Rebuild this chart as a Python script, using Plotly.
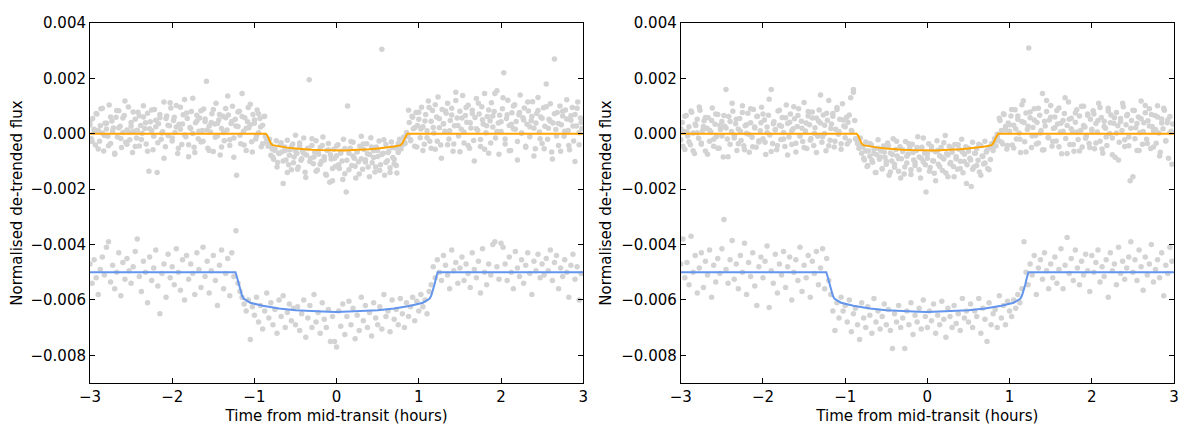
import plotly.graph_objects as go
from plotly.subplots import make_subplots

# time stamps of the light curves, minutes from mid-transit
t_orange = [
    -180, -179, -178, -177, -176, -175, -174, -173, -172, -171, -170, -169, -168, -167, -166, -165, -164, -163, -162, -161,
    -160, -159, -158, -157, -156, -155, -154, -153, -152, -151, -150, -149, -148, -147, -146, -145, -144, -143, -142, -141,
    -140, -139, -138, -137, -136, -135, -134, -133, -132, -131, -130, -129, -128, -127, -126, -125, -124, -123, -122, -121,
    -120, -119, -118, -117, -116, -115, -114, -113, -112, -111, -110, -109, -108, -107, -106, -105, -104, -103, -102, -101,
    -100, -99, -98, -97, -96, -95, -94, -93, -92, -91, -90, -89, -88, -87, -86, -85, -84, -83, -82, -81,
    -80, -79, -78, -77, -76, -75, -74, -73, -72, -71, -70, -69, -68, -67, -66, -65, -64, -63, -62, -61,
    -60, -59, -58, -57, -56, -55, -54, -53, -52, -51, -50, -49, -48, -47, -46, -45, -44, -43, -42, -41,
    -40, -39, -38, -37, -36, -35, -34, -33, -32, -31, -30, -29, -28, -27, -26, -25, -24, -23, -22, -21,
    -20, -19, -18, -17, -16, -15, -14, -13, -12, -11, -10, -9, -8, -7, -6, -5, -4, -3, -2, -1,
    0, 1, 2, 3, 4, 5, 6, 7, 8, 9, 10, 11, 12, 13, 14, 15, 16, 17, 18, 19,
    20, 21, 22, 23, 24, 25, 26, 27, 28, 29, 30, 31, 32, 33, 34, 35, 36, 37, 38, 39,
    40, 41, 42, 43, 44, 45, 46, 47, 48, 49, 50, 51, 52, 53, 54, 55, 56, 57, 58, 59,
    60, 61, 62, 63, 64, 65, 66, 67, 68, 69, 70, 71, 72, 73, 74, 75, 76, 77, 78, 79,
    80, 81, 82, 83, 84, 85, 86, 87, 88, 89, 90, 91, 92, 93, 94, 95, 96, 97, 98, 99,
    100, 101, 102, 103, 104, 105, 106, 107, 108, 109, 110, 111, 112, 113, 114, 115, 116, 117, 118, 119,
    120, 121, 122, 123, 124, 125, 126, 127, 128, 129, 130, 131, 132, 133, 134, 135, 136, 137, 138, 139,
    140, 141, 142, 143, 144, 145, 146, 147, 148, 149, 150, 151, 152, 153, 154, 155, 156, 157, 158, 159,
    160, 161, 162, 163, 164, 165, 166, 167, 168, 169, 170, 171, 172, 173, 174, 175, 176, 177, 178, 179,
]
t_slow = [
    -180, -178.5, -177, -175.5, -174, -172.5, -171, -169.5, -168, -166.5, -165, -163.5, -162, -160.5, -159, -157.5, -156, -154.5, -153, -151.5,
    -150, -148.5, -147, -145.5, -144, -142.5, -141, -139.5, -138, -136.5, -135, -133.5, -132, -130.5, -129, -127.5, -126, -124.5, -123, -121.5,
    -120, -118.5, -117, -115.5, -114, -112.5, -111, -109.5, -108, -106.5, -105, -103.5, -102, -100.5, -99, -97.5, -96, -94.5, -93, -91.5,
    -90, -88.5, -87, -85.5, -84, -82.5, -81, -79.5, -78, -76.5, -75, -73.5, -72, -70.5, -69, -67.5, -66, -64.5, -63, -61.5,
    -60, -58.5, -57, -55.5, -54, -52.5, -51, -49.5, -48, -46.5, -45, -43.5, -42, -40.5, -39, -37.5, -36, -34.5, -33, -31.5,
    -30, -28.5, -27, -25.5, -24, -22.5, -21, -19.5, -18, -16.5, -15, -13.5, -12, -10.5, -9, -7.5, -6, -4.5, -3, -1.5,
    0, 1.5, 3, 4.5, 6, 7.5, 9, 10.5, 12, 13.5, 15, 16.5, 18, 19.5, 21, 22.5, 24, 25.5, 27, 28.5,
    30, 31.5, 33, 34.5, 36, 37.5, 39, 40.5, 42, 43.5, 45, 46.5, 48, 49.5, 51, 52.5, 54, 55.5, 57, 58.5,
    60, 61.5, 63, 64.5, 66, 67.5, 69, 70.5, 72, 73.5, 75, 76.5, 78, 79.5, 81, 82.5, 84, 85.5, 87, 88.5,
    90, 91.5, 93, 94.5, 96, 97.5, 99, 100.5, 102, 103.5, 105, 106.5, 108, 109.5, 111, 112.5, 114, 115.5, 117, 118.5,
    120, 121.5, 123, 124.5, 126, 127.5, 129, 130.5, 132, 133.5, 135, 136.5, 138, 139.5, 141, 142.5, 144, 145.5, 147, 148.5,
    150, 151.5, 153, 154.5, 156, 157.5, 159, 160.5, 162, 163.5, 165, 166.5, 168, 169.5, 171, 172.5, 174, 175.5, 177, 178.5,
]

# de-trended flux, units of 1e-5 (blue curve already offset by -0.005)
# orange: points on t_orange plus a second set on t_slow
flux_orange_left = [
    32, -18, 55, 8, -41, 71, 12, -27, 90, 3, -62, 38, 17, -9, 104, -35, 46, 21, -74, 60,
    -12, 83, 27, -50, 5, 66, -31, 14, 97, -22, 41, -68, 9, 52, -15, 78, -44, 30, 2, 61,
    19, -37, 74, -135, 43, 11, -58, 88, 25, -140, 36, 58, -20, 7, 115, -47, 64, -6, 29, 93,
    -26, 48, 5, 102, -71, 34, 16, -39, 69, 124, -11, 55, -83, 23, 80, 1, -49, 40, 67, -18,
    57, -30, 12, 89, 44, 190, -52, 28, 6, 72, -64, 35, 110, -8, 50, -77, 19, 63, -25, 91,
    14, 68, -42, 37, 99, -15, 52, -150, 26, 81, -36, 145, 9, 58, -60, 43, 22, 107, -29, 70,
    38, -19, 86, 4, 55, -47, 31, 62, -10, -30, -45, -20, -78, -55, -92, -60, -25, -104, -71, -40,
    -66, -180, -48, -95, -23, -112, -58, -130, -37, -84, -5, -71, -120, -44, -96, -62, -15, -139, -77, -53,
    195, -88, -42, -108, -67, -25, -131, -74, -50, -99, -12, -83, -146, -60, -35, -175, -91, -170, -56, -118,
    -79, -40, -125, -63, -98, -20, -144, -210, 100, -70, -52, -115, -31, -88, -160, -66, -101, -45, -9, -128,
    -57, -94, -36, -120, -75, -14, -105, -61, -138, -48, -82, -26, -112, 305, -70, -150, -39, -97, -64, -123,
    -30, -86, -108, -51, -142, -68, -20, -55, -40, -12, -35, 5, -8, 41, -22, 63, 18, -45, 77, 30,
    52, -14, 96, 25, -38, 70, 11, 118, -27, 45, 84, 3, -56, 61, 133, 22, -41, 88, 36, 9,
    74, 110, -19, 48, 92, -63, 29, 150, 57, -8, 81, 16, 138, -33, 66, 42, 103, -52, 21, 85,
    -24, 59, 127, 13, 71, -46, 98, 35, 145, 4, 62, -70, 47, 112, 24, 80, -15, 155, 39, 67,
    8, 90, 220, -37, 55, 121, 30, -60, 76, 18, 105, 44, -28, 69, 140, 2, 58, 93, -49, 34,
    82, -11, 47, 116, 20, -54, 73, 131, 6, 61, -35, 94, 27, 180, -20, 52, 108, -66, 39, 270,
    15, 77, -42, 100, 33, 64, -9, 86, 123, 12, -58, 49, 95, -26, 70, 28, 115, -40, 57, 19,
]
flux_orange_left_b = [
    45, -28, 16, 73, -55, 29, 92, -6, 38, -43, 61, 10, -70, 84, 22, -17, 57, 118, -38, 6,
    27, 79, -46, 13, 65, -21, 101, 40, -63, 18, 86, -9, 49, -32, 70, 3, -88, 55, 31, 112,
    -15, 60, 24, -52, 96, 35, -4, 75, -40, 19, 128, -68, 46, 9, 83, -27, 53, 14, -60, 41,
    88, -13, 37, 70, -48, 5, 58, 136, -22, 44, -85, 28, 79, -5, 62, -41, 20, 95, 33, -66,
    50, -8, 72, 24, -36, 63, -20, -35, -40, -85, -55, -120, -70, -32, -98, -60, -140, -78, -47, -105,
    -62, -128, -33, -90, -70, -158, -52, -100, -18, -84, -135, -66, -110, -42, -95, -150, -58, -76, -125, -88,
    -44, -112, -70, -165, -53, -96, -130, -28, -80, -117, -64, -145, -90, -37, -102, -72, -155, -48, -86, -120,
    -60, -133, -75, -22, -104, -68, -140, -50, -92, -115, -35, -45, -40, -30, -10, 85, -25, 60, 22, -48,
    78, 17, -60, 46, -14, 95, -52, 23, 105, -27, 54, -88, 36, 82, -40, 11, 68, -37, 120, 30,
    -65, 57, 6, 95, -42, 40, 73, -98, 18, 110, -21, 51, -56, 29, 86, -33, 64, 145, 8, -74,
    43, 130, -19, 69, -61, 34, 100, 16, -95, 77, 3, 50, -45, 115, 25, 62, -80, 39, 84, -18,
    56, -54, 98, 20, 45, -91, 72, -8, 37, -63, 81, 9, 53, -42, 65, 28, -100, 92, 4, 41,
]
flux_orange_right = [
    -22, 41, 9, -57, 66, -8, 25, -40, 78, 3, -71, 30, 52, -16, 85, -33, 12, 47, -62, 20,
    58, -27, 6, 93, -45, 34, -11, 70, -52, 15, 44, -84, 27, 160, -19, 62, -38, 8, 81, -5,
    36, -60, 17, 55, -24, 101, -43, 29, 2, 74, -67, 40, -13, 88, 21, -49, 63, -30, 11, 96,
    -18, 50, -75, 24, 67, -4, 160, -35, 43, 14, -58, 82, 31, -21, 59, 5, -46, 104, 37, -12,
    71, -39, 18, 54, -66, 26, 90, -7, 45, -28, 113, 10, -53, 64, 33, -17, 79, -42, 22, 57,
    -9, 86, 39, -31, 68, 1, -61, 49, 120, -23, 35, 73, -48, 16, 95, -2, 52, -36, 108, 28,
    -14, 60, 42, -26, 130, 7, 160, 48, -20, -35, -52, -15, -70, -48, -95, -30, -118, -62, -81, -40,
    -103, -55, -140, -76, -22, -92, -61, -127, -44, -85, -110, -33, -150, -69, -98, -18, -121, -57, -80, -135,
    -47, -90, -64, -145, -28, -106, -73, -52, -130, -38, -95, -115, -60, -11, -84, -160, -49, -101, -70, -210,
    -88, -36, -122, -58, -97, -143, -65, -25, -110, -79, -50, -133, -91, -6, -72, -155, -45, -104, -67, -118,
    -39, -83, -128, -56, -99, -20, -141, -74, -47, -112, -63, -88, -190, -31, -120, -70, -54, -96, -138, -42,
    -80, -109, -27, -66, -125, -50, -93, -35, -60, -18, -44, -2, -25, 48, 12, -37, 70, 26, -55, 39,
    9, 64, -41, 31, 87, -19, 52, 3, -68, 44, 119, -29, 75, 15, 310, 58, -50, 23, 90, -6,
    41, -33, 67, 12, 145, -58, 28, 80, -14, 50, 102, -45, 19, 61, -26, 35, 93, 6, -72, 48,
    73, -17, 30, 115, -39, 56, 8, -63, 42, 87, -21, 64, 13, -48, 99, 24, -8, 71, -35, 52,
    16, 83, -54, 37, 6, 110, -27, 59, -70, 45, 20, -42, 92, 1, 68, -15, 38, -85, 77, 29,
    -31, 55, 12, 98, -46, 33, 70, -12, -170, 48, -155, 84, 22, -60, 61, 5, 118, -38, 40, 76,
    -20, 47, 90, -53, 26, 11, 66, -34, 101, 3, -67, 53, 18, 85, -25, 40, -88, 62, 9, 35,
]
flux_orange_right_b = [
    18, -45, 63, 7, -29, 82, -61, 35, 4, 97, -38, 26, 59, -74, 13, 48, -20, 71, -52, 30,
    -8, 66, 21, -83, 44, 110, -15, 52, -36, 9, 77, -58, 33, -2, 90, -47, 24, 62, -25, 40,
    71, -31, 5, 125, -64, 36, 15, -42, 85, 27, -19, 58, -77, 42, 11, 98, -34, 66, -9, 20,
    -50, 39, 80, -23, 57, 2, -68, 46, 140, -11, 31, 74, -43, 19, 63, -27, 88, 8, -56, 50,
    25, -37, 68, 12, 150, -18, -20, -40, -45, -88, -62, -115, -35, -96, -70, -140, -52, -84, -125, -66,
    -99, -42, -138, -75, -110, -27, -90, -160, -58, -120, -81, -36, -147, -68, -104, -50, -130, -88, -15, -112,
    -73, -135, -46, -98, -170, -60, -118, -85, -32, -142, -77, -108, -55, -155, -90, -40, -125, -66, -100, -180,
    -52, -95, -128, -70, -115, -38, -150, -82, -106, -60, -130, -45, -40, -25, -10, 56, -30, 72, 14, -42,
    33, 88, -51, 17, 64, -20, 105, 41, -66, 27, 79, -8, 50, -37, 92, 3, -59, 45, 120, -14,
    60, -28, 22, 84, -47, 38, 9, 130, -71, 52, 18, -39, 75, 6, -62, 99, 30, -16, 67, -50,
    12, 71, -33, 48, 95, -55, 26, -12, 82, 40, -76, 58, 3, -95, 44, 110, -22, 65, -43, 20,
    85, -18, 37, -60, 54, 8, 102, -35, 28, 70, -48, 15, 61, -80, 39, 92, -26, 50, 5, -110,
]
# blue: points on t_slow
flux_blue_left = [
    -470, -540, -455, -520, -580, -490, -445, -510, -410, -390, -535, -475, -560, -500, -430, -585, -465, -525, -450, -495,
    -540, -480, -425, -380, -515, -570, -460, -500, -610, -445, -530, -485, -420, -550, -650, -505, -470, -590, -435, -520,
    -480, -545, -415, -500, -565, -455, -600, -440, -525, -470, -505, -580, -430, -490, -555, -410, -515, -460, -575, -495,
    -440, -530, -620, -475, -420, -560, -505, -450, -585, -430, -515, -350, -540, -570, -590, -615, -640, -600, -743, -625,
    -655, -590, -680, -620, -705, -640, -575, -665, -610, -690, -635, -720, -600, -660, -585, -700, -645, -615, -675, -630,
    -690, -625, -710, -650, -600, -735, -665, -620, -700, -580, -680, -645, -720, -610, -670, -700, -635, -750, -660, -750,
    -770, -640, -695, -615, -725, -660, -605, -690, -630, -740, -655, -710, -590, -675, -620, -700, -645, -730, -610, -665,
    -690, -625, -705, -580, -660, -640, -715, -600, -670, -635, -690, -595, -650, -700, -610, -660, -625, -590, -675, -605,
    -640, -580, -625, -600, -650, -570, -545, -480, -520, -455, -500, -530, -440, -475, -510, -560, -420, -495, -465, -540,
    -485, -445, -530, -470, -505, -555, -430, -490, -520, -460, -575, -415, -500, -545, -470, -510, -400, -390, -480, -525,
    -395, -410, -470, -530, -445, -500, -560, -425, -485, -515, -455, -540, -475, -430, -505, -580, -460, -495, -435, -520,
    -470, -510, -450, -495, -420, -530, -465, -440, -560, -485, -515, -455, -500, -590, -475, -435, -525, -480, -600, -505,
]
flux_blue_right = [
    -470, -380, -520, -465, -545, -370, -500, -440, -575, -485, -430, -555, -460, -510, -420, -590, -475, -535, -450, -505,
    -415, -310, -490, -540, -455, -385, -525, -470, -560, -440, -500, -395, -580, -465, -515, -430, -550, -620, -480, -445,
    -520, -460, -405, -627, -495, -540, -435, -575, -470, -510, -425, -555, -480, -445, -600, -500, -455, -530, -410, -570,
    -475, -520, -440, -590, -460, -505, -425, -545, -485, -415, -560, -450, -530, -580, -640, -710, -610, -665, -590, -640,
    -620, -680, -600, -715, -650, -630, -690, -743, -610, -665, -700, -625, -655, -720, -595, -680, -640, -705, -660, -615,
    -690, -635, -710, -775, -650, -680, -620, -700, -665, -775, -640, -690, -610, -725, -655, -680, -630, -705, -600, -660,
    -700, -640, -675, -615, -720, -655, -690, -605, -670, -735, -630, -660, -700, -620, -685, -650, -710, -595, -665, -640,
    -680, -615, -700, -640, -660, -595, -720, -630, -670, -750, -610, -690, -650, -635, -700, -585, -665, -620, -690, -605,
    -640, -660, -600, -630, -580, -610, -560, -390, -500, -545, -470, -510, -440, -580, -485, -455, -525, -430, -495, -560,
    -470, -520, -445, -540, -490, -415, -560, -475, -375, -505, -450, -530, -420, -485, -545, -460, -510, -435, -495, -570,
    -440, -500, -465, -420, -535, -480, -515, -455, -590, -430, -495, -470, -545, -410, -505, -460, -525, -485, -445, -390,
    -500, -455, -530, -420, -480, -565, -445, -510, -470, -400, -535, -490, -455, -520, -430, -585, -475, -505, -410, -460,
]

# transit model curves (hours, units of 1e-5)
model_orange_t = [-3, -0.86, -0.84, -0.82, -0.80, -0.78, -0.7, -0.6, -0.5, -0.4, -0.3, -0.2, -0.1, 0,
                  0.1, 0.2, 0.3, 0.4, 0.5, 0.6, 0.7, 0.78, 0.80, 0.82, 0.84, 0.86, 3]
model_orange_f = [0, 0, -8, -22, -35, -41, -46, -50, -53, -56, -58, -59, -60, -60,
                  -60, -59, -58, -56, -53, -50, -46, -41, -35, -22, -8, 0, 0]
model_blue_t = [-3, -1.23, -1.21, -1.19, -1.17, -1.15, -1.13, -1.05, -0.9, -0.7, -0.5, -0.3, -0.1, 0,
                0.1, 0.3, 0.5, 0.7, 0.9, 1.05, 1.13, 1.15, 1.17, 1.19, 1.21, 1.23, 3]
model_blue_f = [-500, -500, -520, -545, -568, -585, -596, -610, -621, -631, -637, -641, -643, -644,
                -643, -641, -637, -631, -621, -610, -596, -585, -568, -545, -520, -500, -500]

x_ticks = [-3, -2, -1, 0, 1, 2, 3]
y_ticks = [0.004, 0.002, 0.0, -0.002, -0.004, -0.006, -0.008]

POINT_GREY = "lightgrey"
ORANGE = "orange"
BLUE = "cornflowerblue"
FONT_SIZE = 15


def hours(minutes):
    return [m / 60.0 for m in minutes]


def flux(values):
    return [v * 1e-5 for v in values]


fig = make_subplots(rows=1, cols=2)

panels = [
    (1, flux_orange_left, flux_orange_left_b, flux_blue_left),
    (2, flux_orange_right, flux_orange_right_b, flux_blue_right),
]
for col, f_orange, f_orange_b, f_blue in panels:
    for t, f in ((t_orange, f_orange), (t_slow, f_orange_b), (t_slow, f_blue)):
        fig.add_trace(go.Scatter(x=hours(t), y=flux(f), mode="markers",
                                 marker=dict(color=POINT_GREY, size=5.5, line=dict(width=0)),
                                 showlegend=False, hoverinfo="skip"), row=1, col=col)
    fig.add_trace(go.Scatter(x=model_orange_t, y=flux(model_orange_f), mode="lines",
                             line=dict(color=ORANGE, width=2), showlegend=False), row=1, col=col)
    fig.add_trace(go.Scatter(x=model_blue_t, y=flux(model_blue_f), mode="lines",
                             line=dict(color=BLUE, width=2), showlegend=False), row=1, col=col)

axis_common = dict(showline=True, linecolor="black", linewidth=1, mirror="ticks",
                   ticks="inside", ticklen=5, tickwidth=1, tickcolor="black",
                   showgrid=False, zeroline=False,
                   tickfont=dict(size=FONT_SIZE, color="black"))

fig.update_xaxes(range=[-3, 3], tickvals=x_ticks,
                 ticktext=[f"{v:d}".replace("-", "\u2212") for v in x_ticks],
                 title=dict(text="Time from mid-transit (hours)", standoff=5,
                            font=dict(size=FONT_SIZE, color="black")),
                 **axis_common)
fig.update_yaxes(range=[-0.009, 0.004], tickvals=y_ticks,
                 ticktext=[f"{v:.3f}".replace("-", "\u2212") for v in y_ticks],
                 title=dict(text="Normalised de-trended flux", standoff=6,
                            font=dict(size=FONT_SIZE, color="black")),
                 **axis_common)

# page body has an 8px margin, so the figure is a little smaller than the window
fig.update_layout(
    width=1177, height=420,
    margin=dict(l=81, r=6, t=9, b=42),
    paper_bgcolor="white", plot_bgcolor="white",
    font=dict(family="DejaVu Sans", size=FONT_SIZE, color="black"),
    xaxis=dict(domain=[0.0, 0.455]),
    xaxis2=dict(domain=[0.545, 1.0]),
)

fig.write_html("out.html")
